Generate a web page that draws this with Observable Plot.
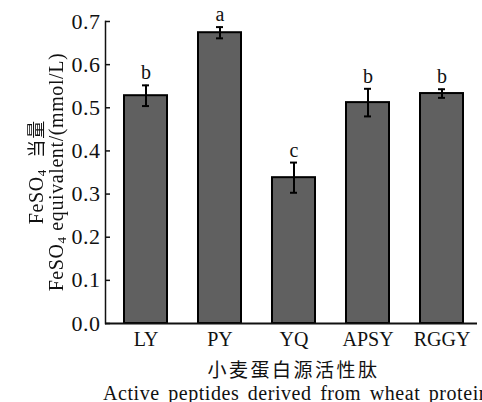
<!DOCTYPE html>
<html>
<head>
<meta charset="utf-8">
<script src="https://cdn.jsdelivr.net/npm/d3@7"></script>
<script src="https://cdn.jsdelivr.net/npm/@observablehq/plot@0.6"></script>
<style>
  html, body { margin: 0; padding: 0; background: #fff; }
  #wrap { width: 482px; height: 402px; overflow: hidden; position: relative; background: #fff; }
  #chart svg { display: block; }
  #zh { font-family: "Noto Sans CJK SC", sans-serif; font-size: 19px; white-space: nowrap; text-align: center; padding-left: 105px; width: 377px; box-sizing: content-box; line-height: 26px; letter-spacing: 2.5px; color: #111; margin-top: 4px; }
  #en { font-family: "Liberation Serif", serif; font-size: 20px; white-space: nowrap; padding-left: 103px; line-height: 22px; letter-spacing: 0.55px; word-spacing: 3px; color: #111; }
  #ylab { position: absolute; left: 46px; top: 172px; transform: translate(-50%, -50%) rotate(-90deg); white-space: nowrap; text-align: center; font-family: "Liberation Serif", serif; font-size: 20px; line-height: 21px; letter-spacing: 0.6px; color: #111; filter: grayscale(1); }
  #ylab div { height: 21px; }
  #ylab sub { font-size: 13px; vertical-align: -3px; line-height: 0; }
  #ylab .cjk { font-family: "Noto Sans CJK SC", sans-serif; font-size: 18px; letter-spacing: 1px; }
</style>
</head>
<body>
<div id="wrap"><div id="chart"></div><div id="zh"></div><div id="en"></div><div id="ylab"></div></div>
<script>
const peptides = ["LY", "PY", "YQ", "APSY", "RGGY"];
const means = [0.528, 0.674, 0.338, 0.512, 0.533];
const errors = [0.024, 0.013, 0.035, 0.032, 0.010];
const letters = ["b", "a", "c", "b", "b"];
const yTicks = [0, 0.1, 0.2, 0.3, 0.4, 0.5, 0.6, 0.7];
const yLabelZh = ["FeSO", "4", "当量"];
const yLabelEn = ["FeSO", "4", "equivalent/(mmol/L)"];
const xLabel = "小麦蛋白源活性肽";
const xLabelEn = "Active peptides derived from wheat protein";

const data = peptides.map((p, i) => ({peptide: p, mean: means[i], err: errors[i], letter: letters[i]}));

const plot = Plot.plot({
  width: 482,
  height: 352,
  marginTop: 21,
  marginLeft: 105,
  marginRight: 5,
  marginBottom: 29,
  style: {fontFamily: "'Liberation Serif', serif", fontSize: "20px", color: "#111", background: "transparent"},
  x: {domain: peptides, paddingInner: 0.415, paddingOuter: 0.194, align: 0.58, label: null},
  y: {domain: [0, 0.7], label: null},
  marks: [
    Plot.barY(data, {x: "peptide", y: "mean", fill: "#606060", stroke: "#000", strokeWidth: 2}),
    Plot.ruleX(data, {x: "peptide", y1: d => d.mean - d.err, y2: d => d.mean + d.err, stroke: "#000", strokeWidth: 2}),
    Plot.tickY(data, {x: "peptide", y: d => d.mean + d.err, insetLeft: 18, insetRight: 18, stroke: "#000", strokeWidth: 2}),
    Plot.tickY(data, {x: "peptide", y: d => d.mean - d.err, insetLeft: 18, insetRight: 18, stroke: "#000", strokeWidth: 2}),
    Plot.text(data, {x: "peptide", y: d => d.mean + d.err, text: "letter", dy: -6, lineAnchor: "bottom", fontSize: 20}),
    Plot.axisY({ticks: yTicks, tickFormat: d3.format(".1f"), tickSize: -5, tickPadding: 10, fontSize: 22, label: null, strokeWidth: 1.5}),
    Plot.axisX({tickSize: 0, tickPadding: 8, fontSize: 20, label: null}),
    Plot.frame({anchor: "left", strokeWidth: 1.5}),
    Plot.ruleY([0], {strokeWidth: 2})
  ]
});
document.getElementById("chart").appendChild(plot);
d3.select(plot).selectAll("g[aria-label='y-axis tick label'] text").attr("letter-spacing", "0.5px");
document.getElementById("zh").textContent = xLabel;
document.getElementById("en").textContent = xLabelEn;

const ylab = d3.select("#ylab");
const l1 = ylab.append("div");
l1.append("span").text(yLabelZh[0]);
l1.append("sub").text(yLabelZh[1]);
l1.append("span").html("&nbsp;&nbsp;");
l1.append("span").attr("class", "cjk").text(yLabelZh[2]);
const l2 = ylab.append("div");
l2.append("span").text(yLabelEn[0]);
l2.append("sub").text(yLabelEn[1]);
l2.append("span").html("&nbsp;");
l2.append("span").text(yLabelEn[2]);
</script>
</body>
</html>
